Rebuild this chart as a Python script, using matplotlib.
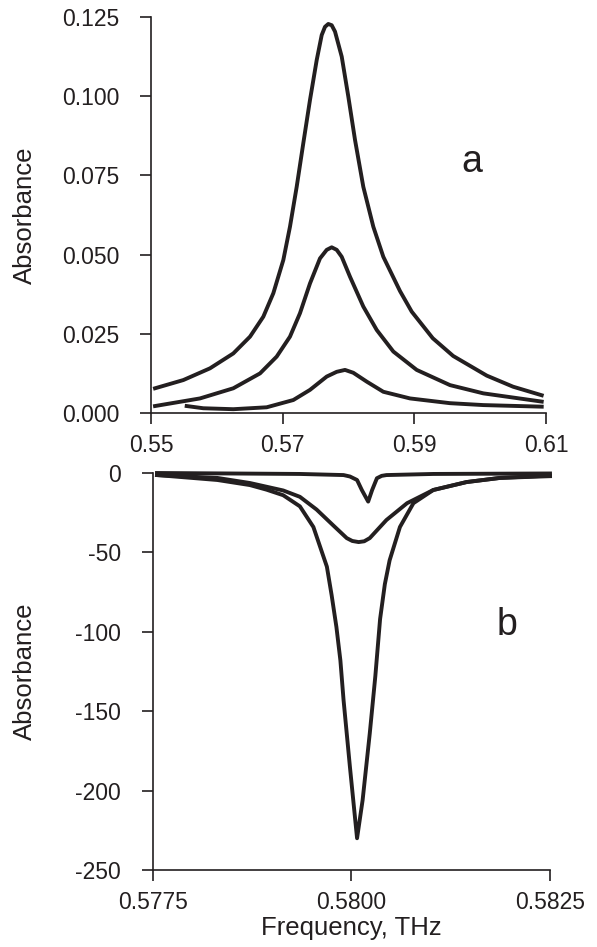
import matplotlib
matplotlib.use("Agg")
import matplotlib.pyplot as plt
from matplotlib.ticker import FormatStrFormatter

plt.rcParams["font.family"] = ["Liberation Sans", "DejaVu Sans"]
plt.rcParams["axes.unicode_minus"] = False

INK = "#231f20"

# panel a: absorbance vs frequency (THz), three curves
a_large_x = [0.55061, 0.55491, 0.55896, 0.56250, 0.56504, 0.56706, 0.56858, 0.57010,
             0.57111, 0.57213, 0.57313, 0.57415, 0.57517, 0.57593, 0.57643, 0.57693,
             0.57745, 0.57795, 0.57897, 0.57997, 0.58099, 0.58225, 0.58377, 0.58529,
             0.58782, 0.58960, 0.59280, 0.59590, 0.60100, 0.60500, 0.60935]
a_large_y = [0.0078, 0.0104, 0.0141, 0.0188, 0.0241, 0.0304, 0.0378, 0.0483,
             0.0588, 0.0714, 0.0851, 0.0988, 0.1114, 0.1193, 0.1219, 0.1228,
             0.1224, 0.1204, 0.1125, 0.0999, 0.0862, 0.0714, 0.0588, 0.0493,
             0.0385, 0.0320, 0.0236, 0.0180, 0.0118, 0.0083, 0.0056]

a_mid_x = [0.55061, 0.55744, 0.56250, 0.56656, 0.56909, 0.57111, 0.57263, 0.57415,
           0.57567, 0.57669, 0.57745, 0.57821, 0.57897, 0.58023, 0.58225, 0.58429,
           0.58681, 0.59036, 0.59542, 0.60048, 0.60935]
a_mid_y = [0.0022, 0.0046, 0.0078, 0.0125, 0.0178, 0.0241, 0.0315, 0.0409,
           0.0488, 0.0515, 0.0523, 0.0515, 0.0493, 0.0430, 0.0336, 0.0262,
           0.0194, 0.0136, 0.0088, 0.0062, 0.0036]

a_small_x = [0.55542, 0.55794, 0.56250, 0.56757, 0.57162, 0.57415, 0.57669, 0.57821,
             0.57947, 0.58073, 0.58277, 0.58529, 0.58934, 0.59542, 0.60048, 0.60935]
a_small_y = [0.0022, 0.0015, 0.0012, 0.0018, 0.0041, 0.0073, 0.0115, 0.0130,
             0.0136, 0.0127, 0.0099, 0.0067, 0.0046, 0.0031, 0.0025, 0.0020]

# panel b: three dips
b_large_x = [0.57755, 0.57831, 0.57872, 0.57893, 0.57914, 0.57935, 0.57952, 0.57969,
             0.57975, 0.57981, 0.57986, 0.57990, 0.57998, 0.58007, 0.58014, 0.58023,
             0.58030, 0.58036, 0.58042, 0.58048, 0.58061, 0.58078, 0.58103, 0.58145,
             0.58187, 0.58250]
b_large_y = [-1.3, -4.4, -7.6, -10.5, -14, -21, -34, -59, -77, -97, -118, -143, -185,
             -230, -206, -164, -128, -92, -70, -55, -34, -19, -10.7, -5.7, -3.1, -2.0]

b_mid_x = [0.57755, 0.57831, 0.57872, 0.57914, 0.57935, 0.57956, 0.57977, 0.57994,
           0.58001, 0.58009, 0.58016, 0.58023, 0.58044, 0.58070, 0.58103, 0.58145,
           0.58187, 0.58250]
b_mid_y = [-1.3, -3.1, -6.3, -11, -15, -23, -33, -41, -42.8, -43.5, -43, -41, -29.6,
           -19, -10.7, -5.7, -3.1, -1.6]

b_small_x = [0.57755, 0.57935, 0.57990, 0.57998, 0.58007, 0.58013, 0.58021, 0.58026,
             0.58032, 0.58038, 0.58044, 0.58103, 0.58250]
b_small_y = [0.0, -0.6, -1.3, -2.2, -4.4, -10.7, -18, -10.7, -3.3, -1.8, -1.3, -0.6,
             -0.3]


def style_axes(ax):
    for side in ("top", "right"):
        ax.spines[side].set_visible(False)
    for side in ("left", "bottom"):
        ax.spines[side].set_color(INK)
        ax.spines[side].set_linewidth(1.2)
    ax.tick_params(direction="out", length=8, width=1.2, colors=INK, labelsize=16.5)
    ax.tick_params(axis="y", pad=15)
    ax.tick_params(axis="x", pad=7)


fig = plt.figure(figsize=(5.97, 9.47), dpi=100)

# top panel
ax1 = fig.add_axes([151 / 597, 1 - 413 / 947, 395 / 597, 396 / 947])
for xs, ys in [(a_large_x, a_large_y), (a_mid_x, a_mid_y), (a_small_x, a_small_y)]:
    ax1.plot(xs, ys, color=INK, lw=2.8, clip_on=False, solid_joinstyle="round")
ax1.set_xlim(0.55, 0.61)
ax1.set_ylim(0, 0.125)
ax1.set_xticks([0.55, 0.57, 0.59, 0.61])
ax1.set_yticks([0, 0.025, 0.05, 0.075, 0.1, 0.125])
ax1.xaxis.set_major_formatter(FormatStrFormatter("%.2f"))
ax1.yaxis.set_major_formatter(FormatStrFormatter("%.3f"))
style_axes(ax1)
ax1.set_ylabel("Absorbance", fontsize=18.5, color=INK)
ax1.yaxis.set_label_coords(-0.289, 0.5)
ax1.text(0.8127, 0.6086, "a", transform=ax1.transAxes, fontsize=27, color=INK,
         ha="center", va="baseline")

# bottom panel
ax2 = fig.add_axes([153 / 597, 1 - 870 / 947, 397 / 597, 397 / 947])
for xs, ys in [(b_large_x, b_large_y), (b_mid_x, b_mid_y), (b_small_x, b_small_y)]:
    ax2.plot(xs, ys, color=INK, lw=2.8, clip_on=False, solid_joinstyle="round")
ax2.set_xlim(0.5775, 0.5825)
ax2.set_ylim(-250, 0)
ax2.set_xticks([0.5775, 0.58, 0.5825])
ax2.set_yticks([-250, -200, -150, -100, -50, 0])
ax2.xaxis.set_major_formatter(FormatStrFormatter("%.4f"))
ax2.yaxis.set_major_formatter(FormatStrFormatter("%d"))
style_axes(ax2)
ax2.set_ylabel("Absorbance", fontsize=18.5, color=INK)
ax2.yaxis.set_label_coords(-0.292, 0.5)
ax2.set_xlabel("Frequency, THz", fontsize=18.5, color=INK)
ax2.xaxis.set_label_coords(0.5, -0.115)
ax2.text(0.8917, 0.592, "b", transform=ax2.transAxes, fontsize=27, color=INK,
         ha="center", va="baseline")

fig.savefig("out.png", dpi=100)
